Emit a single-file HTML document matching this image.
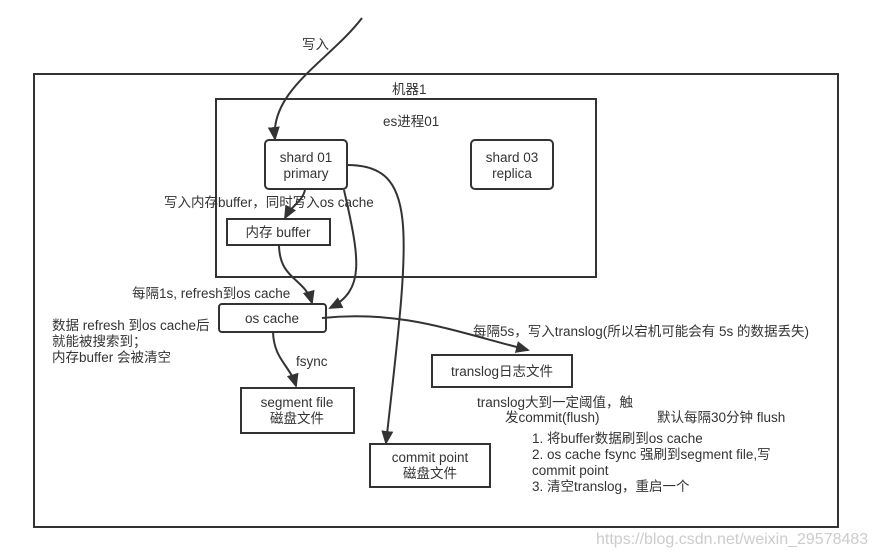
<!DOCTYPE html>
<html><head><meta charset="utf-8"><style>
html,body{margin:0;padding:0;background:#fff;}
svg text{font-family:"Liberation Sans","Noto Sans CJK SC",sans-serif;font-size:13.5px;fill:#333;}
</style></head><body>
<svg width="876" height="555" viewBox="0 0 876 555" xmlns="http://www.w3.org/2000/svg">
<defs><marker id="a" markerWidth="14" markerHeight="12" refX="12" refY="6" orient="auto" markerUnits="userSpaceOnUse"><path d="M0,0 L14,6 L0,12 Z" fill="#333"/></marker></defs>
<g fill="none" stroke="#333" stroke-width="2">
<rect x="34" y="74" width="804" height="453"/>
<rect x="216" y="99" width="380" height="178"/>
<rect x="265" y="140" width="82" height="49" rx="4"/>
<rect x="471" y="140" width="82" height="49" rx="4"/>
<rect x="227" y="219" width="103" height="26"/>
<rect x="219" y="304" width="107" height="28" rx="3"/>
<rect x="241" y="388" width="113" height="45"/>
<rect x="432" y="355" width="140" height="32"/>
<rect x="370" y="444" width="120" height="43"/>
</g>
<g fill="none" stroke="#333" stroke-width="2" marker-end="url(#a)">
<path d="M362,18 C330,60 270,90 275,139"/>
<path d="M305,190 C302,202 292,205 285,218"/>
<path d="M279,246 C280,280 305,278 312,303"/>
<path d="M344,190 C360,260 365,290 330,308"/>
<path d="M347,165 C420,165 410,230 386,443"/>
<path d="M322,318 C400,310 450,330 528,350"/>
<path d="M273,332 C274,360 290,365 296,386"/>
</g>
<text x="302" y="49">写入</text>
<text x="392" y="94">机器1</text>
<text x="383" y="126">es进程01</text>
<text x="306" y="162" text-anchor="middle">shard 01</text>
<text x="306" y="178" text-anchor="middle">primary</text>
<text x="512" y="162" text-anchor="middle">shard 03</text>
<text x="512" y="178" text-anchor="middle">replica</text>
<text x="164" y="207">写入内存buffer，同时写入os cache</text>
<text x="278" y="237" text-anchor="middle">内存 buffer</text>
<text x="132" y="298">每隔1s, refresh到os cache</text>
<text x="272" y="323" text-anchor="middle">os cache</text>
<text x="52" y="330">数据 refresh 到os cache后</text>
<text x="52" y="346">就能被搜索到；</text>
<text x="52" y="362">内存buffer 会被清空</text>
<text x="296" y="366">fsync</text>
<text x="297" y="407" text-anchor="middle">segment file</text>
<text x="297" y="423" text-anchor="middle">磁盘文件</text>
<text x="473" y="336">每隔5s，写入translog(所以宕机可能会有 5s 的数据丢失)</text>
<text x="502" y="376" text-anchor="middle">translog日志文件</text>
<text x="477" y="407">translog大到一定阈值，触</text>
<text x="505" y="422">发commit(flush)</text>
<text x="657" y="422">默认每隔30分钟 flush</text>
<text x="532" y="443">1. 将buffer数据刷到os cache</text>
<text x="532" y="459">2. os cache fsync 强刷到segment file,写</text>
<text x="532" y="475">commit point</text>
<text x="532" y="491">3. 清空translog，重启一个</text>
<text x="430" y="462" text-anchor="middle">commit point</text>
<text x="430" y="478" text-anchor="middle">磁盘文件</text>
<text x="596" y="544" style="fill:#ccc;font-size:16px">https://blog.csdn.net/weixin_29578483</text>
</svg>
</body></html>
